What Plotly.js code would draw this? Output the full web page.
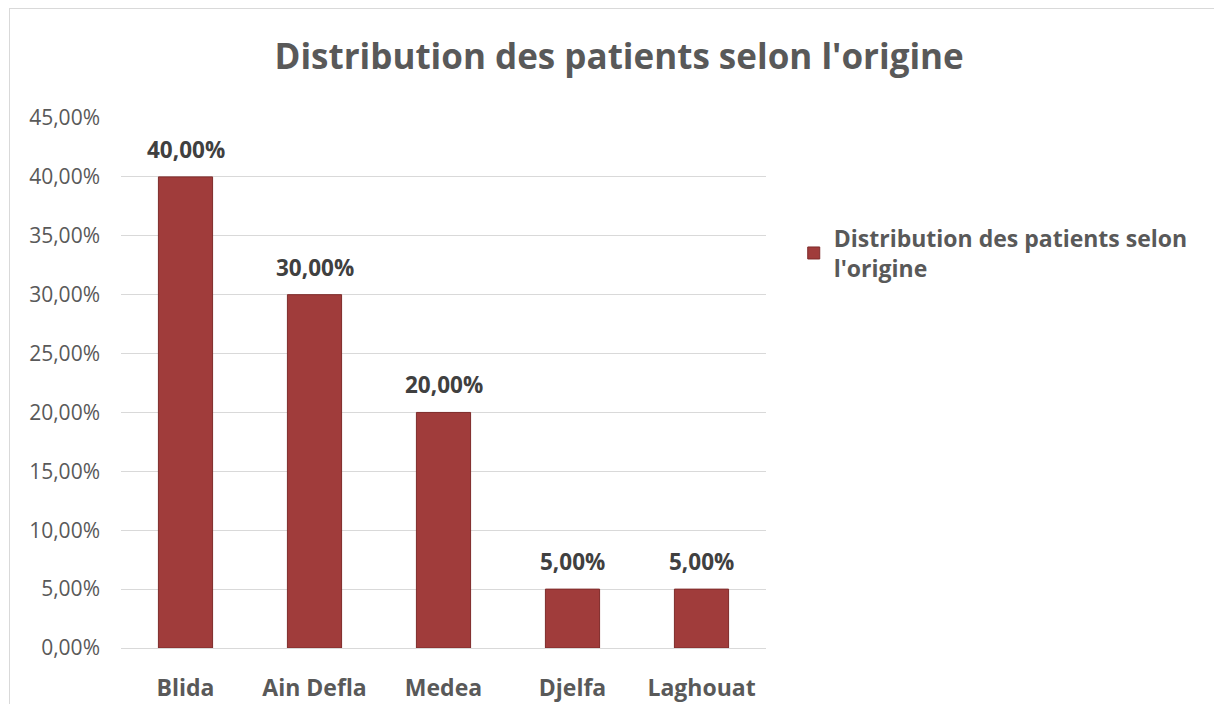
<!DOCTYPE html>
<html>
<head>
<meta charset="utf-8">
<script src="https://cdn.plot.ly/plotly-3.0.1.min.js"></script>
<style>
  html, body { margin: 0; padding: 0; background: #fff; overflow: hidden; }
  #chart { width: 1214px; height: 704px; }
  #frame { position: absolute; left: 9px; top: 8px; width: 1300px; height: 800px; border: 1px solid #d9d9d9; pointer-events: none; }
</style>
</head>
<body>
<div id="chart"></div>
<div id="frame"></div>
<script>
const categories = ["Blida", "Ain Defla", "Medea", "Djelfa", "Laghouat"];
const values = [0.40, 0.30, 0.20, 0.05, 0.05];
const seriesName = "Distribution des patients selon<br>l'origine";
const chartTitle = "Distribution des patients selon l'origine";

const fam = "Open Sans, sans-serif";

const trace = {
  type: "bar",
  x: categories,
  y: values,
  name: seriesName,
  showlegend: true,
  marker: { color: "#A03C3B", line: { color: "#7E2B2A", width: 1 } },
  hoverinfo: "x+y"
};

const labels = categories.map((c, i) => ({
  x: c,
  y: values[i],
  xref: "x",
  yref: "y",
  text: "<b>" + (values[i] * 100).toFixed(2).replace(".", ",") + "%</b>",
  showarrow: false,
  yanchor: "bottom",
  yshift: 10,
  font: { family: fam, size: 22.5, color: "#404040" }
}));

const layout = {
  width: 1214,
  height: 704,
  separators: ", ",
  paper_bgcolor: "#ffffff",
  plot_bgcolor: "#ffffff",
  margin: { l: 121, r: 448, t: 118, b: 56, pad: 0 },
  bargap: 0.58,
  font: { family: fam, color: "#595959" },
  title: {
    text: "<b>" + chartTitle + "</b>",
    font: { family: fam, size: 35, color: "#595959" },
    x: 0.51, xanchor: "center", xref: "container",
    y: 0.92, yanchor: "middle", yref: "container"
  },
  annotations: labels,
  xaxis: {
    type: "category",
    showgrid: false,
    showline: true,
    linecolor: "#d9d9d9",
    linewidth: 1,
    ticks: "",
    tickfont: { family: fam, size: 23, color: "#595959", weight: "bold" },
    ticklabelstandoff: 19
  },
  yaxis: {
    range: [0, 0.45],
    dtick: 0.05,
    tick0: 0,
    tickformat: ".2%",
    showgrid: true,
    gridcolor: "#d9d9d9",
    gridwidth: 1,
    zeroline: false,
    showline: false,
    ticks: "",
    tickfont: { family: fam, size: 21, color: "#595959" },
    ticklabelstandoff: 20
  },
  legend: {
    x: 1.043, xanchor: "left",
    y: 0.814, yanchor: "top",
    font: { family: fam, size: 23, color: "#595959", weight: "bold" },
    bgcolor: "rgba(0,0,0,0)",
    itemwidth: 30
  }
};

Plotly.newPlot("chart", [trace], layout, { displayModeBar: false, staticPlot: true });
</script>
</body>
</html>
